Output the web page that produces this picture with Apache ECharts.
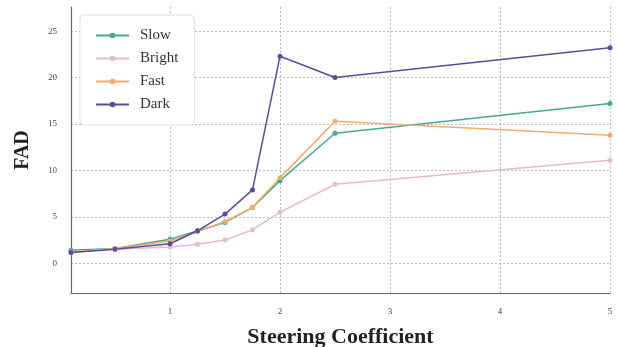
<!DOCTYPE html>
<html>
<head>
<meta charset="utf-8">
<script src="https://cdn.jsdelivr.net/npm/echarts@6/dist/echarts.min.js"></script>
<style>
  html, body { margin: 0; padding: 0; background: #fff; }
  #chart { width: 619px; height: 347px; }
</style>
</head>
<body>
<div id="chart"></div>
<script>
// steering coefficient values (x)
const coeffs = [0.1, 0.5, 1, 1.25, 1.5, 1.75, 2, 2.5, 5];
const slow   = [1.4, 1.6, 2.6, 3.5, 4.4, 6.0, 8.9, 14.0, 17.2];
const bright = [1.2, 1.5, 1.75, 2.05, 2.5, 3.6, 5.5, 8.5, 11.1];
const fast   = [1.2, 1.6, 2.4, 3.4, 4.5, 6.0, 9.2, 15.3, 13.8];
const dark   = [1.15, 1.5, 2.1, 3.5, 5.3, 7.9, 22.3, 20.0, 23.2];
const xTicks = [1, 2, 3, 4, 5];
const yTicks = [0, 5, 10, 15, 20, 25];

const serif = '"Liberation Serif", "DejaVu Serif", serif';

const chart = echarts.init(document.getElementById('chart'));

const mkSeries = (name, vals, color) => ({
  name: name,
  type: 'line',
  data: coeffs.map((x, i) => [x, vals[i]]),
  symbol: 'circle',
  symbolSize: 5,
  lineStyle: { width: 1.5, color: color },
  itemStyle: { color: color },
  emphasis: { disabled: true }
});

const gridLine = { show: true, lineStyle: { type: [2, 2], color: '#aaa', width: 0.8 } };

chart.setOption({
  animation: false,
  textStyle: { fontFamily: serif },
  grid: { left: 71, right: 9, top: 7, bottom: 54, outerBoundsMode: 'none' },
  legend: {
    orient: 'vertical',
    left: 80, top: 15,
    padding: [13, 16, 13, 15],
    itemGap: 8,
    itemWidth: 33, itemHeight: 7,
    backgroundColor: '#fff',
    borderColor: '#ddd', borderWidth: 1, borderRadius: 4,
    textStyle: { fontFamily: serif, fontSize: 15, color: '#333', padding: [0, 0, 0, 6] },
    data: ['Slow', 'Bright', 'Fast', 'Dark']
  },
  xAxis: {
    type: 'value',
    min: 0.1, max: 5,
    name: 'Steering Coefficient',
    nameLocation: 'middle', nameGap: 33,
    nameTextStyle: { fontFamily: serif, fontSize: 22, fontWeight: 'bold', color: '#222' },
    axisLine: { onZero: false, lineStyle: { color: '#666', width: 1.2 } },
    axisTick: { show: false, customValues: xTicks },
    axisLabel: { customValues: xTicks, fontSize: 9, color: '#444', margin: 14 },
    splitLine: gridLine
  },
  yAxis: {
    type: 'value',
    min: -3.2, max: 27.6,
    name: 'FAD',
    nameLocation: 'middle', nameGap: 38,
    nameTextStyle: { fontFamily: serif, fontSize: 20, fontWeight: 'bold', color: '#222' },
    axisLine: { show: true, onZero: false, lineStyle: { color: '#666', width: 1.2 } },
    axisTick: { show: false, customValues: yTicks },
    axisLabel: { customValues: yTicks, fontSize: 9, color: '#444', margin: 14 },
    splitLine: gridLine
  },
  series: [
    mkSeries('Slow', slow, '#45a893'),
    mkSeries('Bright', bright, '#e5b8d3'),
    mkSeries('Fast', fast, '#f6aa6c'),
    mkSeries('Dark', dark, '#5a4b9f')
  ]
});

window.addEventListener('resize', () => chart.resize());
</script>
</body>
</html>
